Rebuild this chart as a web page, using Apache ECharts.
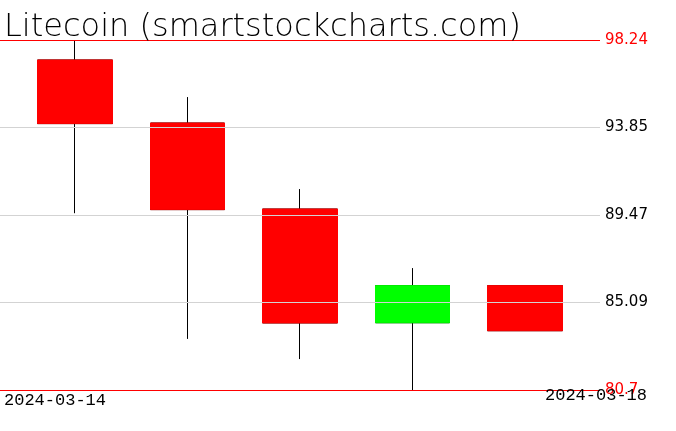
<!DOCTYPE html>
<html><head><meta charset="utf-8">
<script src="https://cdn.jsdelivr.net/npm/echarts@6/dist/echarts.min.js"></script>
<style>html,body{margin:0;padding:0;background:#fff}#c{width:676px;height:431px}</style>
</head><body><div id="c"></div>
<script>
const titleText = 'Litecoin (smartstockcharts.com)';
const categories = ['2024-03-14','2024-03-15','2024-03-16','2024-03-17','2024-03-18'];
const openVals  = [97.24, 94.08, 89.77, 84.07, 85.93];
const closeVals = [94.05, 89.74, 84.06, 85.93, 83.67];
const lowVals   = [89.56, 83.26, 82.25, 80.70, 83.67];
const highVals  = [98.24, 95.38, 90.77, 86.81, 85.93];
const yTickLabels = ['80.7','85.09','89.47','93.85','98.24'];
const yMin = 80.7, yMax = 98.24;

const FONT = 'DejaVu Sans';
const full = categories.map((c,i)=>[openVals[i], closeVals[i], lowVals[i], highVals[i]]);
const bodies = categories.map((c,i)=>[openVals[i], closeVals[i],
  Math.min(openVals[i],closeVals[i]), Math.max(openVals[i],closeVals[i])]);
const lastIdx = yTickLabels.length - 1;

const chart = echarts.init(document.getElementById('c'), null, {renderer:'canvas'});
chart.setOption({
  animation:false,
  backgroundColor:'#fff',
  title:[
    {text:titleText, left:4, top:12, padding:0,
     textStyle:{fontFamily:FONT, fontSize:32, fontWeight:200, color:'#000'}},
    {text:categories[0], left:4, top:392, padding:0,
     textStyle:{fontFamily:'Liberation Mono', fontSize:17, fontWeight:'normal', color:'#000'}},
    {text:categories[categories.length-1], right:29, top:387, padding:0,
     textStyle:{fontFamily:'Liberation Mono', fontSize:17, fontWeight:'normal', color:'#000'}}
  ],
  grid:[
    {left:0, right:76, top:40, bottom:41},
    {left:18.75, right:94.75, top:40, bottom:41}
  ],
  xAxis:[
    {gridIndex:0, type:'value', min:0, max:1, show:false},
    {gridIndex:1, type:'category', data:categories, show:false}
  ],
  yAxis:[
    {gridIndex:0, type:'value', min:0, max:lastIdx, interval:1, position:'right', z:5,
     axisLine:{show:false}, axisTick:{show:false},
     splitLine:{show:true, lineStyle:{width:1,
       color:yTickLabels.map((t,i)=> (i===0||i===lastIdx)?'#ff0000':'#d3d3d3')}},
     axisLabel:{margin:5, verticalAlign:'middle', padding:[0,0,11,0],
       fontFamily:FONT, fontSize:15, fontWeight:'normal',
       formatter:(v)=>yTickLabels[Math.round(v)],
       color:(v,i)=>{const k=Math.round(v);return (k===0||k===lastIdx)?'#ff0000':'#000';}}},
    {gridIndex:1, type:'value', min:yMin, max:yMax, show:false}
  ],
  series:[
    {type:'candlestick', xAxisIndex:1, yAxisIndex:1, data:full, barWidth:75,
     itemStyle:{color:'#00ff00', color0:'#ff0000', borderColor:'#000', borderColor0:'#000', borderWidth:1}},
    {type:'candlestick', xAxisIndex:1, yAxisIndex:1, data:bodies, barWidth:75,
     itemStyle:{color:'#00ff00', color0:'#ff0000', borderColor:'#00ff00', borderColor0:'#ff0000', borderWidth:1}}
  ]
});
</script></body></html>
